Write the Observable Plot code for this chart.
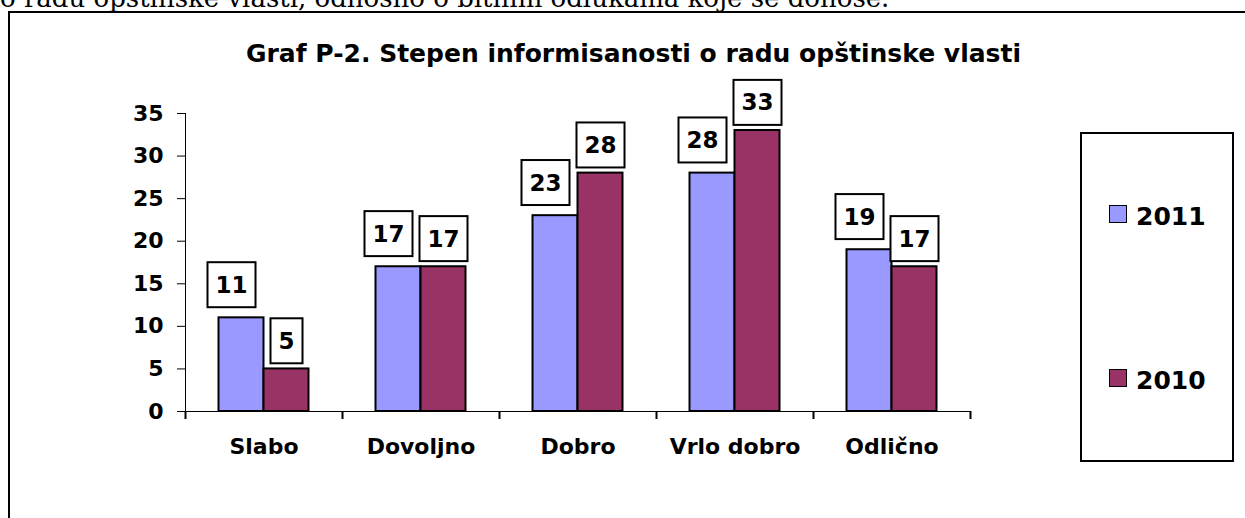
<!DOCTYPE html>
<html>
<head>
<meta charset="utf-8">
<script src="https://cdn.jsdelivr.net/npm/d3@7"></script>
<script src="https://cdn.jsdelivr.net/npm/@observablehq/plot@0.6"></script>
<style>
  html, body { margin: 0; padding: 0; background: #fff; width: 1245px; height: 518px; overflow: hidden; }
  #page { position: relative; width: 1245px; height: 518px; overflow: hidden; background: #fff; }
  #intro { position: absolute; left: 0; top: -15px; font: 26px/26px "DejaVu Serif", serif; white-space: nowrap; color: #000; }
  #frame { position: absolute; left: 8px; top: 11px; width: 1300px; height: 600px; border: 2px solid #000; }
  #chart { position: absolute; left: 0; top: 0; }
  #title { position: absolute; left: 0; width: 1267px; top: 41px; text-align: center; font: bold 25px/25px "DejaVu Sans", sans-serif; color: #000; white-space: nowrap; }
  #legend { position: absolute; left: 1080px; top: 132px; width: 150px; height: 326px; border: 2px solid #000; background: #fff; }
  .item { position: absolute; left: 0; font: bold 25px/25px "DejaVu Sans", sans-serif; white-space: nowrap; }
  .sw { position: absolute; left: 27px; width: 16px; height: 16px; border: 1.5px solid #000; }
  .lab { position: absolute; left: 54px; top: 0; }
</style>
</head>
<body>
<div id="page">
  <div id="intro"></div>
  <div id="frame"></div>
  <div id="chart"></div>
  <div id="title"></div>
  <div id="legend"></div>
</div>
<script>
// ---- data ----
const introText = "o radu opštinske vlasti, odnosno o bitnim odlukama koje se donose.";
const titleText = "Graf P-2. Stepen informisanosti o radu opštinske vlasti";
const categories = ["Slabo", "Dovoljno", "Dobro", "Vrlo dobro", "Odlično"];
const series = ["2011", "2010"];
const values2011 = [11, 17, 23, 28, 19];
const values2010 = [5, 17, 28, 33, 17];
const yTicks = [0, 5, 10, 15, 20, 25, 30, 35];
const colors = ["#9999FF", "#993366"];

// ---- build ----
document.getElementById("intro").textContent = introText;
document.getElementById("title").textContent = titleText;

const rows2011 = categories.map((c, i) => ({cat: c, value: values2011[i], series: series[0]}));
const rows2010 = categories.map((c, i) => ({cat: c, value: values2010[i], series: series[1]}));

const half = 78.5; // half of category band (px)

const chart = Plot.plot({
  width: 1245,
  height: 518,
  marginLeft: 185,
  marginRight: 275,
  marginTop: 113,
  marginBottom: 107,
  style: {fontFamily: "DejaVu Sans", fontWeight: "bold", fontSize: "22px", color: "#000", background: "transparent", overflow: "visible"},
  x: {domain: categories, padding: 0, tickSize: 0, tickPadding: 27, label: null, line: true},
  y: {domain: [0, 35], ticks: yTicks, tickSize: 8, tickPadding: 14, label: null, line: true},
  marks: [
    Plot.barY(rows2011, {x: "cat", y: "value", fill: colors[0], stroke: "#000", strokeWidth: 2, insetLeft: half - 45, insetRight: half}),
    Plot.barY(rows2010, {x: "cat", y: "value", fill: colors[1], stroke: "#000", strokeWidth: 2, insetLeft: half, insetRight: half - 45}),
    Plot.ruleX(categories, {x: d => d, y1: 0, y2: 0, insetTop: 8, insetBottom: 0, dx: -half, stroke: "#000", strokeWidth: 2}),
    Plot.ruleX(categories.slice(-1), {x: d => d, y1: 0, y2: 0, insetTop: 8, insetBottom: 0, dx: half, stroke: "#000", strokeWidth: 2}),
    Plot.text(rows2011, {x: "cat", y: "value", text: d => String(d.value), dx: -32.5, dy: -32.5, fontSize: 23, fontWeight: "bold", lineAnchor: "middle", fill: "#000"}),
    Plot.text(rows2010, {x: "cat", y: "value", text: d => String(d.value), dx: 22.5, dy: -27.5, fontSize: 23, fontWeight: "bold", lineAnchor: "middle", fill: "#000"})
  ]
});
document.getElementById("chart").append(chart);

// white boxes with black borders behind value labels
d3.select(chart).selectAll('g[aria-label="text"] text').each(function() {
  const b = this.getBBox();
  const cx = b.x + b.width / 2, cy = b.y + b.height / 2;
  const w = b.width + 16, h = 45;
  const r = document.createElementNS("http://www.w3.org/2000/svg", "rect");
  r.setAttribute("x", cx - w / 2);
  r.setAttribute("y", cy - h / 2);
  r.setAttribute("width", w);
  r.setAttribute("height", h);
  r.setAttribute("fill", "#fff");
  r.setAttribute("stroke", "#000");
  r.setAttribute("stroke-width", 2);
  const t = this.getAttribute("transform");
  if (t) r.setAttribute("transform", t);
  this.parentNode.insertBefore(r, this);
});

// legend
const legend = document.getElementById("legend");
const itemTops = [70, 234];
series.forEach((s, i) => {
  const item = document.createElement("div");
  item.className = "item";
  item.style.top = itemTops[i] + "px";
  const sw = document.createElement("div");
  sw.className = "sw";
  sw.style.background = colors[i];
  sw.style.top = "1px";
  const lab = document.createElement("div");
  lab.className = "lab";
  lab.textContent = s;
  item.append(sw, lab);
  legend.append(item);
});
</script>
</body>
</html>
